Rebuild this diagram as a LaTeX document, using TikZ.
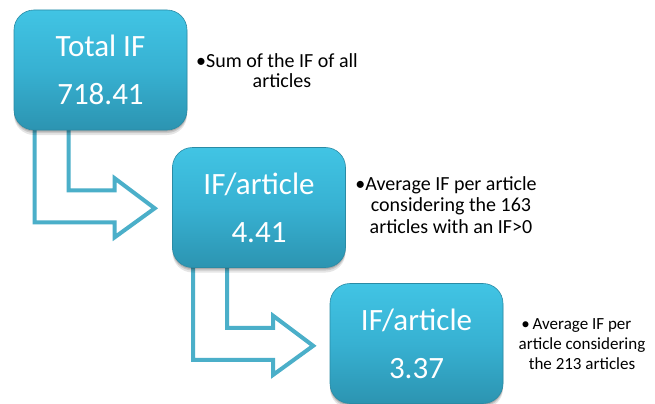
\documentclass[tikz,border=0pt]{standalone}
\usepackage{fontspec}
\setmainfont{Carlito}
\usetikzlibrary{calc}
\pgfdeclarelayer{paper}
\pgfdeclarelayer{arrows}
\pgfsetlayers{paper,arrows,main}
\definecolor{boxtop}{HTML}{41C4E4}
\definecolor{boxmid}{HTML}{37B1D2}
\definecolor{boxbot}{HTML}{2C94B1}
\definecolor{boxedge}{HTML}{2A8BA5}
\definecolor{arrowc}{HTML}{4BAFC9}
\tikzset{
  ifbox/.style={rectangle, rounded corners=20pt, minimum width=173pt, minimum height=120pt,
    inner sep=0pt, top color=boxtop, bottom color=boxbot, middle color=boxmid,
    draw=boxedge, line width=0.6pt, text=white, font=\fontsize{31}{48}\selectfont, align=center,
    preaction={fill=black, fill opacity=0.10, transform canvas={yshift=-5pt}},
    preaction={fill=black, fill opacity=0.12, transform canvas={yshift=-3pt}},
    preaction={fill=black, fill opacity=0.15, transform canvas={yshift=-1.5pt}}},
  bentarrow/.style={draw=arrowc, line width=4pt, line join=miter},
  note/.style={align=center, anchor=base, text=black, inner sep=0pt},
}
\newcommand\bentarr[1]{%
  \draw[bentarrow] ($(#1.south west)+(21,-4)$) -- ++(0,96) -- ++(80,0) -- ++(0,15)
    -- ($(#1.south west)+(141,78)$) -- ($(#1.south west)+(101,48)$) -- ++(0,12)
    -- ++(-46,0) -- ++(0,-64);}
\begin{document}
\begin{tikzpicture}[x=1pt,y=-1pt]
\begin{pgfonlayer}{paper}
\useasboundingbox[fill=white] (0,0) rectangle (655,400);
\end{pgfonlayer}
\node[ifbox] (b1) at (100.5,70) {Total IF\\718.41};
\node[ifbox] (b2) at (259,207.5) {IF/article\\4.41};
\node[ifbox] (b3) at (416.5,343.5) {IF/article\\3.37};
\begin{pgfonlayer}{arrows}
\bentarr{b1}
\bentarr{b2}
\end{pgfonlayer}
\node[note, font=\fontsize{20}{20}\selectfont] (t1) at (282,87) {\llap{•}Sum of the IF of all\\articles};
\node[note, font=\fontsize{20}{21.5}\selectfont] (t2) at (451,233) {\llap{•}Average IF per article\\considering the 163\\articles with an IF>0};
\node[note, font=\fontsize{17}{20}\selectfont] (t3) at (582,369) {\llap{•\,}Average IF per\\article considering\\the 213 articles};
\end{tikzpicture}
\end{document}
